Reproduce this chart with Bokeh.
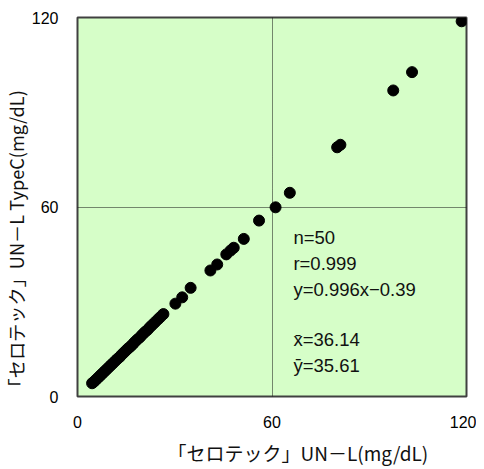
from bokeh.plotting import figure
from bokeh.models import Label, FixedTicker, Range1d, Title
from bokeh.embed import file_html
from bokeh.resources import INLINE

# ---- data ----
x_vals = [4.5, 5.0, 5.6, 6.2, 6.8, 7.3, 7.9, 8.5, 9.1, 9.8, 10.4, 11.0, 11.7, 12.3,
          13.0, 13.6, 14.3, 15.0, 15.6, 16.3, 17.0, 17.6, 18.4, 19.2, 20.0, 20.8,
          21.6, 22.3, 23.1, 23.9, 24.8, 25.6, 26.5,
          30.2, 32.3, 34.9, 41.0, 43.1, 45.9, 47.2, 48.2, 51.3, 56.0, 61.1, 65.5,
          80.1, 81.1, 97.4, 103.2, 118.5]
y_vals = [4.2, 4.6, 5.2, 5.8, 6.4, 6.9, 7.5, 8.1, 8.7, 9.4, 10.0, 10.6, 11.3, 11.9,
          12.5, 13.2, 13.9, 14.6, 15.2, 15.8, 16.5, 17.2, 18.0, 18.7, 19.6, 20.4,
          21.1, 21.9, 22.7, 23.5, 24.4, 25.2, 26.1,
          29.4, 31.4, 34.4, 39.9, 41.8, 45.0, 46.2, 47.1, 49.9, 55.7, 59.9, 64.5,
          78.9, 79.7, 96.9, 102.7, 118.8]
ticks = [0, 60, 120]
stat_lines = ["n=50", "r=0.999", "y=0.996x\u22120.39", "x\u0304=36.14", "\u0233=35.61"]
stat_y = [50.4, 42.2, 33.8, 17.9, 9.9]
stat_x = 66.6
x_title = "「セロテック」UN－L(mg/dL)"
y_title = "「セロテック」UN－L TypeC(mg/dL)"

LATIN = "Liberation Sans"
CJK = "Noto Sans CJK JP"

p = figure(frame_width=389, frame_height=379, output_backend="svg",
           toolbar_location=None,
           x_range=Range1d(0, 120), y_range=Range1d(0, 120),
           min_border_left=77, min_border_right=10, min_border_top=17,
           min_border_bottom=60)
p.background_fill_color = "#D6FEC8"
p.border_fill_color = "white"
p.outline_line_color = "#404040"
p.outline_line_width = 2

for ax in (p.xaxis, p.yaxis):
    ax.ticker = FixedTicker(ticks=ticks)
    ax.axis_line_color = None
    ax.major_tick_line_color = None
    ax.minor_tick_line_color = None
    ax.major_tick_out = 0
    ax.major_tick_in = 0
    ax.major_label_text_font = LATIN
    ax.major_label_text_font_size = "16px"
    ax.major_label_text_color = "black"
p.xaxis.major_label_standoff = 19
p.yaxis.major_label_standoff = 19

for g in (p.xgrid, p.ygrid):
    g.ticker = FixedTicker(ticks=[60])
    g.grid_line_color = "#111111"
    g.grid_line_width = 1
    g.grid_line_dash = "1 1"

p.scatter(x_vals, y_vals, size=11, color="black")

for txt, yy in zip(stat_lines, stat_y):
    p.add_layout(Label(x=stat_x, y=yy, text=txt, text_font=LATIN,
                       text_font_size="18.5px", text_color="#111111",
                       text_baseline="middle", text_align="left"))

p.add_layout(Title(text=x_title, align="left", offset=90, standoff=13,
                   text_font=CJK, text_font_size="19px", text_font_style="normal",
                   text_color="#111111"), "below")
p.add_layout(Title(text=y_title, align="left", offset=0, standoff=0,
                   text_font=CJK, text_font_size="18.2px", text_font_style="normal",
                   text_color="#111111"), "left")

open("out.html", "w").write(file_html(p, INLINE))
